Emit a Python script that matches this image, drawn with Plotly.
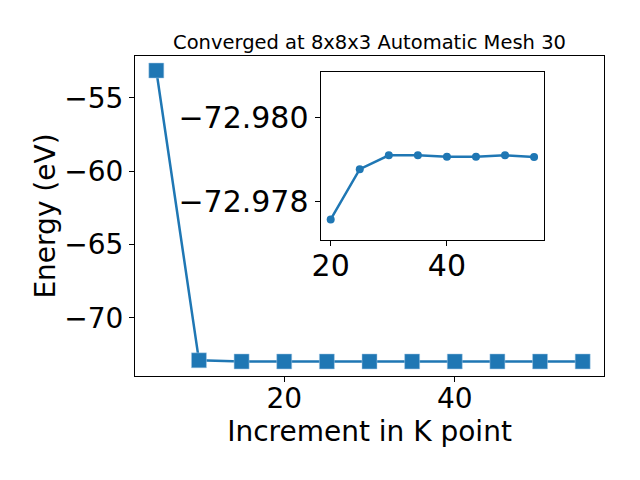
import plotly.graph_objects as go

# Main series
kpoints = [5, 10, 15, 20, 25, 30, 35, 40, 45, 50, 55]
energy = [-53.14, -72.90, -72.979, -72.9791, -72.9791, -72.9791, -72.9791, -72.9791, -72.9791, -72.9791, -72.9791]

# Inset series
kpoints_inset = [20, 25, 30, 35, 40, 45, 50, 55]
energy_inset = [-72.97756, -72.97876, -72.97909, -72.97909, -72.97906, -72.97906, -72.97909, -72.97905]

main_yticks = [-55, -60, -65, -70]
main_yticklabels = ["\u221255", "\u221260", "\u221265", "\u221270"]
main_xticks = [20, 40]
inset_yticks = [-72.980, -72.978]
inset_yticklabels = ["\u221272.980", "\u221272.978"]
inset_xticks = [20, 40]

title = "Converged at 8x8x3 Automatic Mesh 30"
xlabel = "Increment in K point"
ylabel = "Energy (eV)"

color = "#1f77b4"
font = "DejaVu Sans"

fig = go.Figure()
fig.add_trace(go.Scatter(
    x=kpoints, y=energy, mode="lines+markers",
    line=dict(color=color, width=2.5),
    marker=dict(symbol="square", size=15, color=color, line=dict(color="#a9cbe6", width=0.5)),
    xaxis="x", yaxis="y", showlegend=False,
))
fig.add_trace(go.Scatter(
    x=kpoints_inset, y=energy_inset, mode="lines+markers",
    line=dict(color=color, width=2.5),
    marker=dict(symbol="circle", size=8, color=color),
    xaxis="x2", yaxis="y2", showlegend=False,
))

def axis_style(fs):
    return dict(showline=True, linecolor="black", linewidth=1, mirror=True,
                ticks="outside", ticklen=5, tickwidth=1, tickcolor="black",
                showgrid=False, zeroline=False,
                tickfont=dict(family=font, size=fs, color="black"))

fig.update_layout(
    width=640, height=480,
    margin=dict(l=127, r=44, t=48, b=112),
    paper_bgcolor="white", plot_bgcolor="white",
    font=dict(family=font, color="black"),
    title=dict(text=title, x=(369.5 - 8) / 640, xanchor="center", y=1 - 34 / 480, yanchor="middle",
               font=dict(family=font, size=19.5, color="black")),
    xaxis=dict(domain=[0, 1], range=[2.5, 57.5], tickvals=main_xticks, ticklabelstandoff=-8,
               title=dict(text=xlabel, font=dict(family=font, size=28, color="black"), standoff=6),
               **axis_style(28)),
    yaxis=dict(domain=[0, 1], range=[-73.97, -52.15], tickvals=main_yticks, ticktext=main_yticklabels,
               title=dict(text=ylabel, font=dict(family=font, size=28, color="black"), standoff=0),
               **axis_style(28)),
    xaxis2=dict(domain=[0.3956, 0.8726], anchor="y2", range=[18.25, 56.75], tickvals=inset_xticks,
                ticklabelstandoff=-6, **axis_style(30)),
    yaxis2=dict(domain=[0.425, 0.95], anchor="x2", range=[-72.97707, -72.98108],
                tickvals=inset_yticks, ticktext=inset_yticklabels, **axis_style(30)),
)

fig.write_html("out.html")
